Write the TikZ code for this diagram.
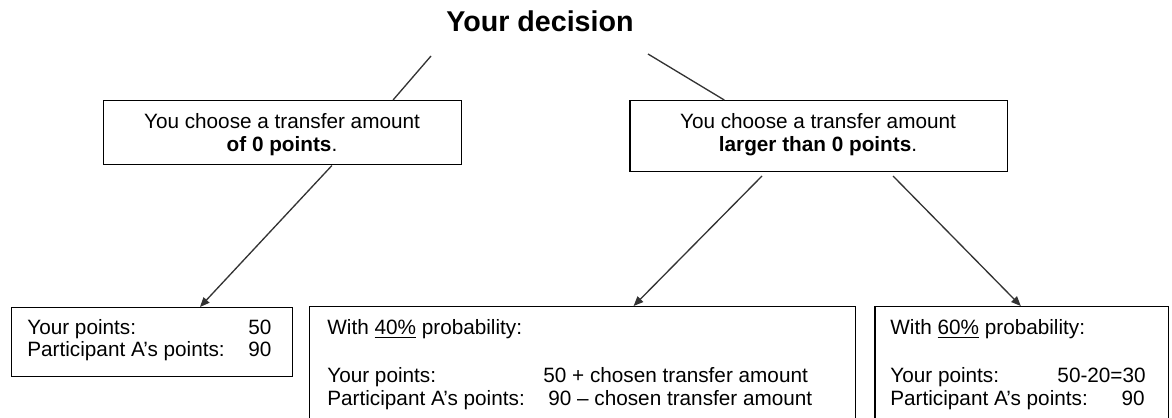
\documentclass[tikz,border=0pt]{standalone}
\usepackage{fontspec}
\setmainfont{Liberation Sans}
\usetikzlibrary{arrows.meta,calc}
\begin{document}
\begin{tikzpicture}[x=0.02cm,y=-0.02cm,
  box/.style={draw=black,line width=0.85pt,rectangle,inner sep=0pt,anchor=north west},
  txt/.style={font=\fontsize{11.8}{13.1}\selectfont,inner sep=0pt,anchor=base west},
  ctxt/.style={txt,anchor=base},
  rtxt/.style={txt,anchor=base east},
  conn/.style={draw=black!80,line width=0.75pt},
  arr/.style={conn,-{Triangle[length=5.5pt,width=4.5pt]}}]
\useasboundingbox (0,0) rectangle (1172,418);
\clip (0,0) rectangle (1172,418);
\fill[white] (0,0) rectangle (1172,418);

% title
\node[font=\fontsize{16.3}{19}\selectfont\bfseries,anchor=base,inner sep=0pt] (title) at (540,32) {Your decision};

% boxes
\node[box,minimum width=7.16cm,minimum height=1.28cm] (b1) at (103,100) {};
\node[box,minimum width=7.56cm,minimum height=1.42cm] (b2) at (629,100) {};
\node[box,minimum width=5.62cm,minimum height=1.38cm] (bA) at (11,307) {};
\node[box,minimum width=10.92cm,minimum height=2.68cm] (bB) at (309,306) {};
\node[box,minimum width=5.88cm,minimum height=2.68cm] (bC) at (874,306) {};

% box texts
\node[ctxt] (t1a) at (282,129) {You choose a transfer amount};
\node[ctxt] (t1b) at (282,152) {\textbf{of 0 points}.};
\node[ctxt] (t2a) at (818,129) {You choose a transfer amount};
\node[ctxt] (t2b) at (818,152) {\textbf{larger than 0 points}.};

\node[txt] (aL1) at (27,335) {Your points:};
\node[txt] (aV1) at (248,335) {50};
\node[txt] (aL2) at (27,357) {Participant A’s points:};
\node[txt] (aV2) at (248,357) {90};

\node[txt] (bH) at (327,335) {With \underline{40\%} probability:};
\node[txt] (bL1) at (327,382) {Your points:};
\node[txt] (bV1) at (543,382) {50 + chosen transfer amount};
\node[txt] (bL2) at (327,405) {Participant A’s points:};
\node[txt] (bV2) at (548,405) {90 – chosen transfer amount};

\node[txt] (cH) at (890,335) {With \underline{60\%} probability:};
\node[txt] (cL1) at (890,382) {Your points:};
\node[rtxt] (cV1) at (1146,382) {50-20=30};
\node[txt] (cL2) at (890,405) {Participant A’s points:};
\node[rtxt] (cV2) at (1145,405) {90};

% connectors
\coordinate (tl) at (431,56);
\coordinate (tr) at (648,54);
\coordinate (s2l) at (762,176);
\coordinate (s2r) at (893,176);
\draw[conn] (tl) -- ($(b1.north west)!0.807!(b1.north east)$);
\draw[conn] (tr) -- ($(b2.north west)!0.251!(b2.north east)$);
\draw[arr] ($(b1.south west)!0.637!(b1.south east)$) -- ($(bA.north west)!0.669!(bA.north east)$);
\draw[arr] (s2l) -- ($(bB.north west)!0.593!(bB.north east)$);
\draw[arr] (s2r) -- ($(bC.north west)!0.497!(bC.north east)$);
\end{tikzpicture}
\end{document}
